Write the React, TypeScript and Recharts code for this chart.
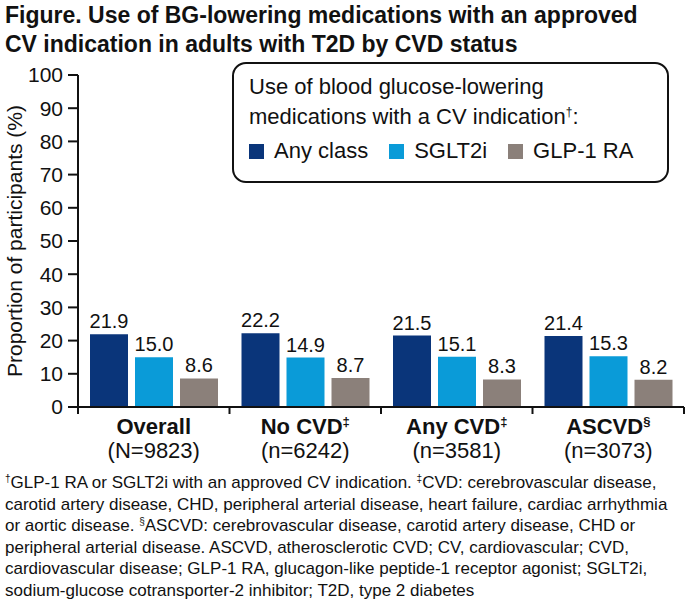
import { BarChart, Bar, XAxis, YAxis, LabelList } from 'recharts'

const groups = ['Overall', 'No CVD', 'Any CVD', 'ASCVD']
const groupMarks = ['', '‡', '‡', '§']
const groupNs = ['(N=9823)', '(n=6242)', '(n=3581)', '(n=3073)']
const anyClass = [21.9, 22.2, 21.5, 21.4]
const sglt2i = [15.0, 14.9, 15.1, 15.3]
const glp1 = [8.6, 8.7, 8.3, 8.2]
const yTicks = [0, 10, 20, 30, 40, 50, 60, 70, 80, 90, 100]

const series = [
  { key: 'any', name: 'Any class', color: '#0a357a' },
  { key: 'sglt', name: 'SGLT2i', color: '#0a9bd8' },
  { key: 'glp', name: 'GLP-1 RA', color: '#8b807a' },
]

const data = groups.map((g, i) => ({
  group: g,
  mark: groupMarks[i],
  n: groupNs[i],
  any: anyClass[i],
  sglt: sglt2i[i],
  glp: glp1[i],
}))

const SANS = '"Liberation Sans", Arial, Helvetica, sans-serif'
const BAND = 151.5
const supStyle = { fontSize: 10, verticalAlign: 'top', lineHeight: '14px' }

function CategoryTick(props: any) {
  const { x, y, index } = props
  const row = data[index]
  return (
    <g>
      <line x1={x - BAND / 2} x2={x - BAND / 2} y1={y} y2={y + 7} stroke="#111" strokeWidth={2} />
      {index === data.length - 1 && (
        <line x1={x + BAND / 2} x2={x + BAND / 2} y1={y} y2={y + 7} stroke="#111" strokeWidth={2} />
      )}
      <text x={x} y={y + 27} textAnchor="middle" fontFamily={SANS} fontSize={22} fontWeight="bold" fill="#111">
        {row.group}
        {row.mark && (
          <tspan fontSize={13} dy={-8}>{row.mark}</tspan>
        )}
      </text>
      <text x={x} y={y + 51} textAnchor="middle" fontFamily={SANS} fontSize={22} fill="#111">
        {row.n}
      </text>
    </g>
  )
}

function LegendBox() {
  return (
    <div
      style={{
        position: 'absolute',
        left: 232,
        top: 62,
        width: 437,
        height: 121,
        boxSizing: 'border-box',
        border: '2px solid #111',
        borderRadius: 14,
        background: '#fff',
        padding: '8px 0 0 15px',
        fontFamily: SANS,
        fontSize: 22,
        color: '#111',
        lineHeight: '30px',
      }}
    >
      <div>Use of blood glucose-lowering</div>
      <div>
        medications with a CV indication<sup style={{ fontSize: 12, verticalAlign: 'top', lineHeight: '20px' }}>†</sup>:
      </div>
      <div style={{ display: 'flex', alignItems: 'center', marginTop: 4 }}>
        {series.map((s) => (
          <span key={s.key} style={{ display: 'flex', alignItems: 'center', marginRight: 21 }}>
            <span style={{ width: 15, height: 15, background: s.color, display: 'inline-block', marginRight: 10 }} />
            {s.name}
          </span>
        ))}
      </div>
    </div>
  )
}

export default function App() {
  return (
    <div style={{ position: 'absolute', left: 0, top: 0, width: 685, height: 600, background: '#fff', color: '#111' }}>
      <div
        style={{
          position: 'absolute',
          left: 5,
          top: 1,
          fontFamily: SANS,
          fontWeight: 'bold',
          fontSize: 23,
          lineHeight: '29px',
          whiteSpace: 'nowrap',
        }}
      >
        Figure. Use of BG-lowering medications with an approved
        <br />
        CV indication in adults with T2D by CVD status
      </div>

      <BarChart
        width={685}
        height={470}
        data={data}
        margin={{ top: 75, right: 1, bottom: 3, left: 8 }}
        barCategoryGap={12}
        barGap={7}
      >
        <XAxis
          dataKey="group"
          height={60}
          tickSize={0}
          tickMargin={0}
          tickLine={false}
          axisLine={{ stroke: '#111', strokeWidth: 2 }}
          tick={<CategoryTick />}
          interval={0}
        />
        <YAxis
          width={70}
          domain={[0, 100]}
          ticks={yTicks}
          interval={0}
          tickSize={10}
          tickMargin={5}
          axisLine={{ stroke: '#111', strokeWidth: 2 }}
          tickLine={{ stroke: '#111', strokeWidth: 2 }}
          tick={{ fontFamily: SANS, fontSize: 21, fill: '#111' }}
          label={({ viewBox }: any) => (
            <text
              x={14}
              y={viewBox.y + viewBox.height / 2}
              transform={`rotate(-90, 14, ${viewBox.y + viewBox.height / 2})`}
              textAnchor="middle"
              dominantBaseline="central"
              fontFamily={SANS}
              fontSize={21}
              fill="#111"
            >
              Proportion of participants (%)
            </text>
          )}
        />
        {series.map((s) => (
          <Bar key={s.key} dataKey={s.key} name={s.name} fill={s.color} isAnimationActive={false}>
            <LabelList
              dataKey={s.key}
              position="top"
              offset={6}
              formatter={(v: any) => Number(v).toFixed(1)}
              style={{ fontFamily: SANS, fontSize: 20, fill: '#111' }}
            />
          </Bar>
        ))}
      </BarChart>

      <LegendBox />

      <div
        style={{
          position: 'absolute',
          left: 5,
          top: 472,
          fontFamily: SANS,
          fontSize: 17,
          lineHeight: '21.5px',
          whiteSpace: 'nowrap',
        }}
      >
        <sup style={supStyle}>†</sup>GLP-1 RA or SGLT2i with an approved CV indication.{' '}
        <sup style={supStyle}>‡</sup>CVD: cerebrovascular disease,
        <br />
        carotid artery disease, CHD, peripheral arterial disease, heart failure, cardiac arrhythmia
        <br />
        or aortic disease. <sup style={supStyle}>§</sup>ASCVD: cerebrovascular disease, carotid artery disease, CHD or
        <br />
        peripheral arterial disease. ASCVD, atherosclerotic CVD; CV, cardiovascular; CVD,
        <br />
        cardiovascular disease; GLP-1 RA, glucagon-like peptide-1 receptor agonist; SGLT2i,
        <br />
        sodium-glucose cotransporter-2 inhibitor; T2D, type 2 diabetes
      </div>
    </div>
  )
}
